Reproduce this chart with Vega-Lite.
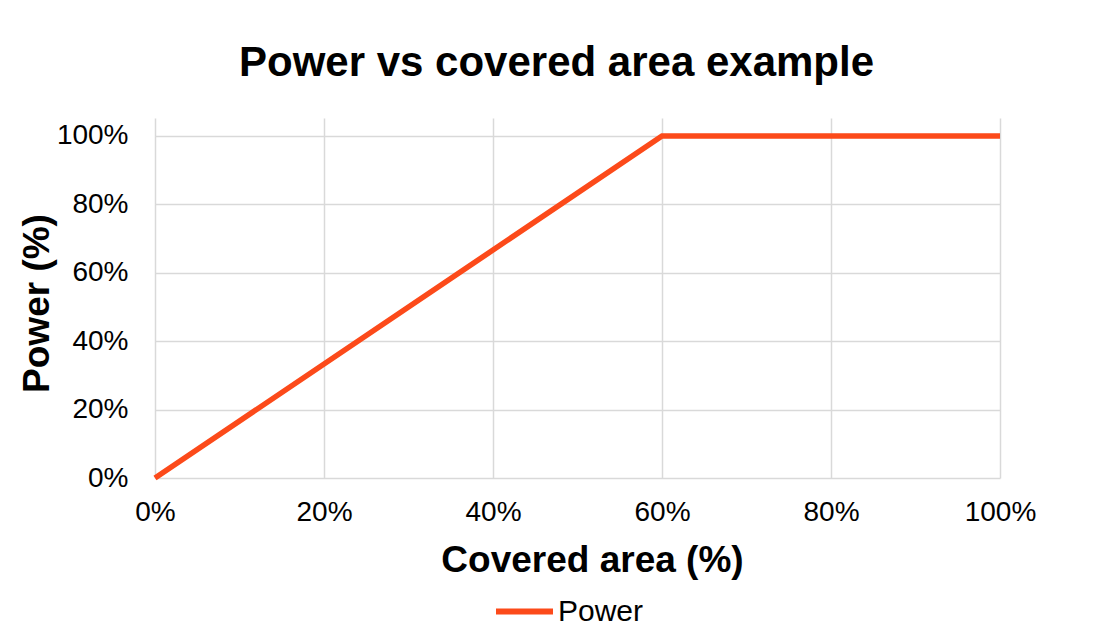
{
  "$schema": "https://vega.github.io/schema/vega-lite/v6.json",
  "width": 845,
  "height": 360,
  "autosize": {"type": "none"},
  "padding": {"left": 155, "top": 118, "right": 93, "bottom": 158},
  "background": "white",
  "config": {
    "font": "Liberation Sans",
    "view": {"stroke": null},
    "axis": {"gridColor": "#d9d9d9", "gridWidth": 1.5, "gridOpacity": 1}
  },
  "title": {
    "text": "Power vs covered area example",
    "font": "Liberation Sans",
    "fontSize": 42,
    "fontWeight": "bold",
    "color": "#000000",
    "anchor": "middle",
    "dx": -21,
    "offset": 33
  },
  "data": {
    "values": [
      {"area": 0, "power": 0, "series": "Power"},
      {"area": 0.6, "power": 1, "series": "Power"},
      {"area": 1, "power": 1, "series": "Power"}
    ]
  },
  "mark": {"type": "line", "strokeWidth": 5.5, "strokeCap": "butt"},
  "encoding": {
    "x": {
      "field": "area",
      "type": "quantitative",
      "scale": {"domain": [0, 1], "nice": false},
      "axis": {
        "title": "Covered area (%)",
        "format": ".0%",
        "values": [0, 0.2, 0.4, 0.6, 0.8, 1],
        "domain": false,
        "ticks": false,
        "labelFlush": false,
        "labelFontSize": 28,
        "labelColor": "#000000",
        "labelPadding": 20,
        "labelFont": "Liberation Sans",
        "titleFont": "Liberation Sans",
        "titleFontSize": 37,
        "titleFontWeight": "bold",
        "titleColor": "#000000",
        "titlePadding": 16,
        "titleX": 437,
        "titleAnchor": "middle"
      }
    },
    "y": {
      "field": "power",
      "type": "quantitative",
      "scale": {"domain": [0, 1.0526], "nice": false},
      "axis": {
        "title": "Power (%)",
        "format": ".0%",
        "values": [0, 0.2, 0.4, 0.6, 0.8, 1],
        "domain": false,
        "ticks": false,
        "labelFlush": false,
        "labelFontSize": 28,
        "labelColor": "#000000",
        "labelPadding": 27,
        "labelFont": "Liberation Sans",
        "titleFont": "Liberation Sans",
        "titleFontSize": 37,
        "titleFontWeight": "bold",
        "titleColor": "#000000",
        "titlePadding": 0,
        "titleY": 185,
        "titleAnchor": "middle"
      }
    },
    "color": {
      "field": "series",
      "type": "nominal",
      "scale": {"range": ["#FC4A1A"]},
      "legend": {
        "title": null,
        "orient": "none",
        "legendX": 338,
        "legendY": 462,
        "symbolType": "stroke",
        "symbolSize": 3249,
        "symbolStrokeWidth": 6,
        "labelFontSize": 30,
        "labelFont": "Liberation Sans",
        "labelColor": "#000000",
        "labelOffset": 2
      }
    }
  }
}
